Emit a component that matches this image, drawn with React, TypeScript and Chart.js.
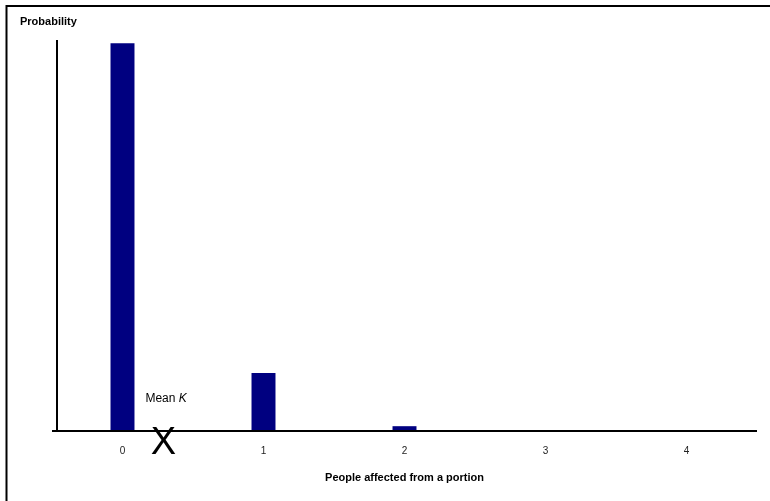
import React, { useEffect, useRef } from "react";
import { Chart, registerables } from "chart.js";

Chart.register(...registerables);

const categories = ["0", "1", "2", "3", "4"];
const probabilities = [0.863, 0.127, 0.0085, 0, 0];
const yMax = 0.87;
const meanK = 0.29;
const yAxisTitle = "Probability";
const xAxisTitle = "People affected from a portion";
const meanLabel = "Mean ";
const meanSymbol = "K";
const meanMarker = "X";

const FONT = "'Liberation Sans', Arial, sans-serif";

const decorPlugin = {
  id: "decor",
  beforeDraw(chart: any) {
    const ctx = chart.ctx;
    ctx.save();
    ctx.fillStyle = "#ffffff";
    ctx.fillRect(0, 0, chart.width, chart.height);
    ctx.strokeStyle = "#000";
    ctx.lineWidth = 2;
    ctx.beginPath();
    ctx.moveTo(6.5, chart.height);
    ctx.lineTo(6.5, 6);
    ctx.lineTo(chart.width, 6);
    ctx.stroke();
    ctx.restore();
  },
  afterDraw(chart: any) {
    const ctx = chart.ctx;
    const area = chart.chartArea;
    const xs = chart.scales.x;
    ctx.save();
    ctx.strokeStyle = "#000";
    ctx.lineWidth = 2;
    // y axis
    ctx.beginPath();
    ctx.moveTo(area.left + 5, area.top);
    ctx.lineTo(area.left + 5, area.bottom + 1);
    ctx.stroke();
    // x axis
    ctx.beginPath();
    ctx.moveTo(area.left, area.bottom + 1);
    ctx.lineTo(area.right, area.bottom + 1);
    ctx.stroke();

    // y axis title
    ctx.fillStyle = "#000";
    ctx.font = `bold 11px ${FONT}`;
    ctx.textAlign = "left";
    ctx.textBaseline = "middle";
    ctx.fillText(yAxisTitle, 20, 22);

    // mean marker
    const mx = xs.getPixelForValue(meanK);
    ctx.font = `38px ${FONT}`;
    ctx.textAlign = "center";
    ctx.textBaseline = "middle";
    ctx.fillText(meanMarker, mx, area.bottom + 14);

    ctx.font = `12px ${FONT}`;
    ctx.textAlign = "left";
    const tx = mx - 18;
    ctx.fillText(meanLabel, tx, area.bottom - 31);
    const w = ctx.measureText(meanLabel).width;
    ctx.font = `italic 12px ${FONT}`;
    ctx.fillText(meanSymbol, tx + w, area.bottom - 31);
    ctx.restore();
  },
};

export default function App() {
  const ref = useRef<HTMLCanvasElement | null>(null);
  useEffect(() => {
    if (!ref.current) return;
    const chart = new Chart(ref.current, {
      type: "bar",
      data: {
        labels: categories,
        datasets: [
          {
            data: probabilities,
            backgroundColor: "#000080",
            borderWidth: 0,
            categoryPercentage: 1,
            barPercentage: 0.17,
          },
        ],
      },
      options: {
        animation: false,
        responsive: false,
        layout: { padding: { left: 52, right: 13, top: 40, bottom: 0 } },
        plugins: {
          legend: { display: false },
          tooltip: { enabled: false },
          title: { display: false },
        },
        scales: {
          x: {
            offset: true,
            grid: { display: false, drawTicks: false, tickLength: 0 },
            border: { display: false },
            ticks: {
              color: "#222",
              font: { family: FONT, size: 10 },
              padding: 15,
              maxRotation: 0,
            },
            title: {
              display: true,
              text: xAxisTitle,
              color: "#000",
              font: { family: FONT, size: 11, weight: "bold" },
              padding: { top: 0, bottom: 16 },
            },
            afterFit: (scale: any) => {
              scale.height = 71;
            },
          },
          y: {
            display: false,
            min: 0,
            max: yMax,
          },
        },
      },
      plugins: [decorPlugin],
    });
    return () => chart.destroy();
  }, []);
  return (
    <div style={{ position: "absolute", left: 0, top: 0, width: 770, height: 501 }}>
      <canvas ref={ref} width={770} height={501} style={{ display: "block" }} />
    </div>
  );
}
